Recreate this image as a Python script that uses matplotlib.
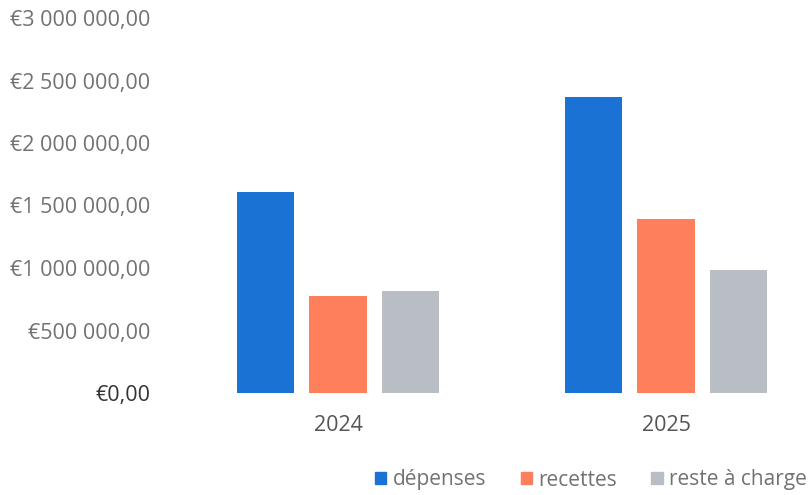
import matplotlib
matplotlib.use("Agg")
import matplotlib.pyplot as plt
import numpy as np
from matplotlib.patches import Patch

years = ["2024", "2025"]
series = ["dépenses", "recettes", "reste à charge"]
depenses = [1610000, 2370000]
recettes = [775000, 1390000]
reste = [815000, 985000]
colors = ["#1a73d4", "#fd7f5b", "#b9bec4"]
yticks = [0, 500000, 1000000, 1500000, 2000000, 2500000, 3000000]

plt.rcParams["font.family"] = ["Open Sans", "DejaVu Sans"]

fig = plt.figure(figsize=(8.08, 4.95), dpi=100)
W, H = 808, 495
left, right, top, bottom = 174, 808, 18, 393
ax = fig.add_axes([left / W, (H - bottom) / H, (right - left) / W, (bottom - top) / H])

x = np.arange(len(years))
width = 0.174
step = 0.22
for i, (vals, col) in enumerate(zip([depenses, recettes, reste], colors)):
    ax.bar(x + (i - 1) * step, vals, width=width, color=col, label=series[i])

ax.set_xlim(-0.5, 1.5 - 22 / 328)
ax.set_ylim(0, 3000000)
ax.set_yticks(yticks)

def fmt(v):
    s = f"{int(v):,}".replace(",", " ")
    return f"€{s},00"

ax.set_yticklabels([fmt(v) for v in yticks])
ax.set_xticks(x)
ax.set_xticklabels(years)
ax.tick_params(axis="y", length=0, pad=17, labelsize=15.5, labelcolor="#727272")
ax.tick_params(axis="x", length=0, pad=16, labelsize=15.5, labelcolor="#555555")
ax.get_yticklabels()[0].set_color("#333333")
for s in ax.spines.values():
    s.set_visible(False)

handles = [Patch(color=c) for c in colors]
fig.legend(handles, series, loc="center", bbox_to_anchor=(591 / W, 1 - 480 / H),
           ncol=3, frameon=False, fontsize=15, handlelength=0.55, handleheight=0.55,
           handletextpad=0.3, columnspacing=1.65, labelcolor="#727272")

fig.savefig("out.png", dpi=100)
